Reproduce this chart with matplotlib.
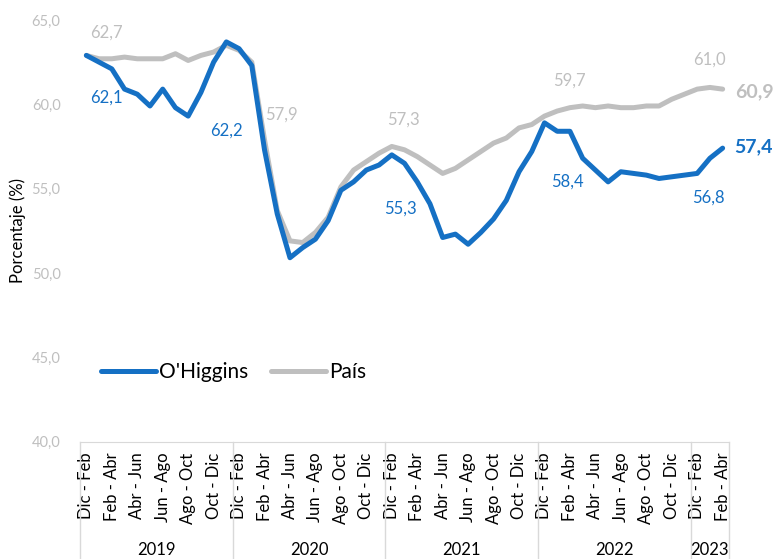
import numpy as np
import matplotlib
matplotlib.use("Agg")
import matplotlib.pyplot as plt
import matplotlib.transforms as mtransforms
from matplotlib.ticker import FuncFormatter

plt.rcParams['font.family'] = ['Lato', 'DejaVu Sans']

# Datos: trimestres móviles Dic-Feb 2019 a Feb-Abr 2023
quarters = ["Dic - Feb", "Ene - Mar", "Feb - Abr", "Mar - May", "Abr - Jun", "May - Jul",
            "Jun - Ago", "Jul - Sep", "Ago - Oct", "Sep - Nov", "Oct - Dic", "Nov - Ene"]
years = ["2019", "2020", "2021", "2022", "2023"]
year_lengths = [12, 12, 12, 12, 3]

ohiggins = [62.9, 62.5, 62.1, 60.9, 60.6, 59.9, 60.9, 59.8, 59.3, 60.7, 62.5, 63.7,
            63.3, 62.3, 57.3, 53.5, 50.9, 51.5, 52.0, 53.1, 54.9, 55.4, 56.1, 56.4,
            57.0, 56.5, 55.4, 54.1, 52.1, 52.3, 51.7, 52.4, 53.2, 54.3, 56.0, 57.2,
            58.9, 58.4, 58.4, 56.8, 56.1, 55.4, 56.0, 55.9, 55.8, 55.6, 55.7, 55.8,
            55.9, 56.8, 57.4]
pais = [62.9, 62.7, 62.7, 62.8, 62.7, 62.7, 62.7, 63.0, 62.6, 62.9, 63.1, 63.5,
        63.2, 62.5, 57.9, 53.7, 51.9, 51.8, 52.4, 53.3, 55.1, 56.1, 56.6, 57.1,
        57.5, 57.3, 56.9, 56.4, 55.9, 56.2, 56.7, 57.2, 57.7, 58.0, 58.6, 58.8,
        59.3, 59.6, 59.8, 59.9, 59.8, 59.9, 59.8, 59.8, 59.9, 59.9, 60.3, 60.6,
        60.9, 61.0, 60.9]

# etiquetas de datos: (índice, texto, dx, dy en puntos)
labels_pais = [(1, "62,7", 5, 19), (14, "57,9", 12, 18), (25, "57,3", -1, 22),
               (37, "59,7", 9, 22), (49, "61,0", 0, 20)]
labels_ohiggins = [(2, "62,1", -4, -21), (13, "62,2", -18, -47), (26, "55,3", -12, -19),
                   (37, "58,4", 7, -36), (49, "56,8", -1, -28)]

blue = "#1570C4"
gray = "#BFBFBF"

x = np.arange(len(ohiggins))

fig = plt.figure(figsize=(7.78, 5.59), dpi=100)
ax = fig.add_axes([80 / 778, 1 - 441.5 / 559, 649 / 778, 421.5 / 559])

ax.plot(x, pais, color=gray, lw=3.6, solid_capstyle='round', solid_joinstyle='round', label="País", zorder=2)
ax.plot(x, ohiggins, color=blue, lw=3.6, solid_capstyle='round', solid_joinstyle='round', label="O'Higgins", zorder=3)

for i, txt, dx, dy in labels_pais:
    ax.annotate(txt, (x[i], pais[i]), xytext=(dx, dy), textcoords='offset points',
                ha='center', va='center', color=gray, fontsize=12)
for i, txt, dx, dy in labels_ohiggins:
    ax.annotate(txt, (x[i], ohiggins[i]), xytext=(dx, dy), textcoords='offset points',
                ha='center', va='center', color=blue, fontsize=12)

# últimos valores en negrita
ax.annotate("60,9", (x[-1], pais[-1]), xytext=(9, -2), textcoords='offset points',
            ha='left', va='center', color=gray, fontsize=14, fontweight='bold', annotation_clip=False)
ax.annotate("57,4", (x[-1], ohiggins[-1]), xytext=(8, 1), textcoords='offset points',
            ha='left', va='center', color=blue, fontsize=14, fontweight='bold', annotation_clip=False)

ax.set_xlim(-0.5, len(x) - 0.5)
ax.set_ylim(40, 65)
ax.set_yticks(np.arange(40, 66, 5))
ax.yaxis.set_major_formatter(FuncFormatter(lambda v, p: f"{v:.1f}".replace('.', ',')))
ax.tick_params(axis='y', length=0, pad=14, labelcolor="#BFBFBF", labelsize=10.5)

# ticks x: cada dos trimestres
tick_pos = []
tick_lab = []
start = 0
for n in year_lengths:
    for k in range(0, n, 2):
        tick_pos.append(start + k)
        tick_lab.append(quarters[k])
    start += n
ax.set_xticks(tick_pos)
ax.set_xticklabels(tick_lab, rotation=90, fontsize=12)
ax.tick_params(axis='x', length=0, pad=8)

for s in ['top', 'right', 'left']:
    ax.spines[s].set_visible(False)
ax.spines['bottom'].set_color("#D9D9D9")

# separadores y etiquetas de año
trans = mtransforms.blended_transform_factory(ax.transData, ax.transAxes)
start = 0
bounds = [-0.5]
for yr, n in zip(years, year_lengths):
    ax.text(start + (n - 1) / 2, -0.257, yr, transform=trans, ha='center', va='center', fontsize=12)
    start += n
    bounds.append(start - 0.5)
for b in bounds:
    ax.plot([b, b], [0, -0.28], transform=trans, color="#D9D9D9", lw=1, clip_on=False)

ax.set_ylabel("Porcentaje (%)", fontsize=12)
ax.yaxis.set_label_coords(-0.083, 0.5)

handles, labs = ax.get_legend_handles_labels()
fig.legend(handles[::-1], labs[::-1], loc='center left', bbox_to_anchor=(101 / 778, 1 - 372 / 559),
           ncol=2, frameon=False, fontsize=15, handlelength=2.64, handletextpad=0.15,
           columnspacing=1.1, borderpad=0, borderaxespad=0)

fig.savefig("out.png", dpi=100)
